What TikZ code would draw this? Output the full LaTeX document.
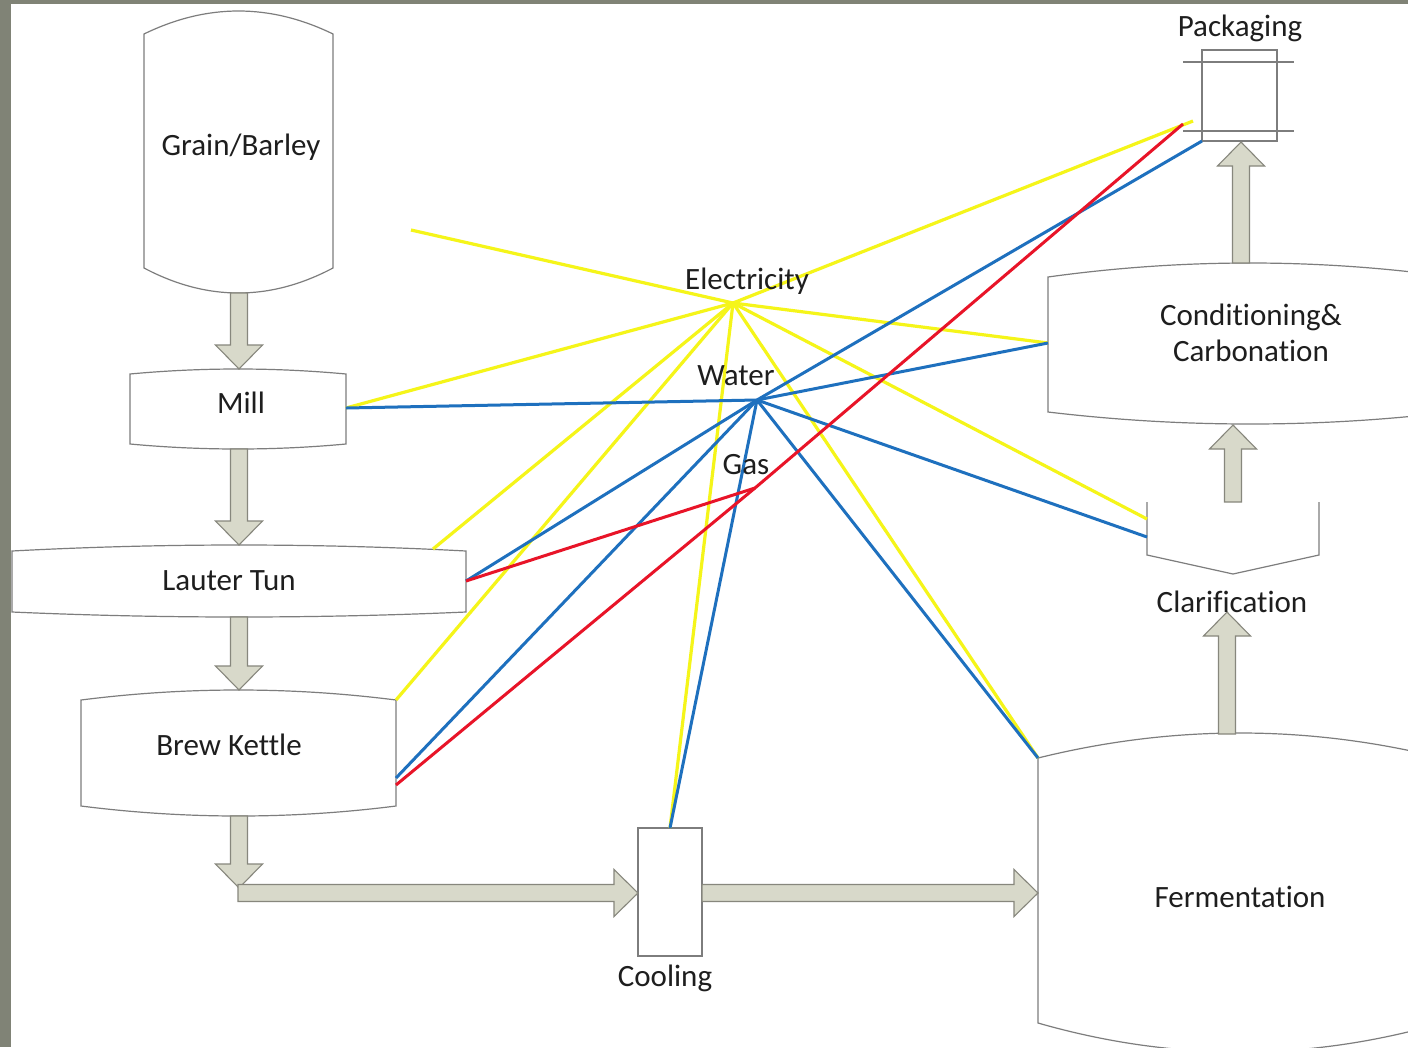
\documentclass[tikz,border=0pt]{standalone}
\usepackage{fontspec}
\setmainfont{Carlito}[Ligatures=NoCommon]
\usetikzlibrary{calc}
\definecolor{framecol}{RGB}{128,131,118}
\definecolor{outl}{RGB}{125,125,125}
\definecolor{arrfill}{RGB}{216,217,202}
\definecolor{arrline}{RGB}{135,135,125}
\definecolor{elecY}{RGB}{245,245,25}
\definecolor{waterB}{RGB}{30,112,190}
\definecolor{gasR}{RGB}{232,20,40}
\definecolor{txt}{RGB}{30,30,30}
\tikzset{
  vessel/.style={draw=outl, fill=white, line width=1.2pt},
  thinrule/.style={draw=outl, line width=1.2pt},
  blockarrow/.style={draw=arrline, fill=arrfill, line width=1.1pt, line join=miter},
  elecline/.style={draw=elecY, line width=3.2pt},
  waterline/.style={draw=waterB, line width=3pt},
  gasline/.style={draw=gasR, line width=3pt},
  lbl/.style={text=txt, font=\fontsize{31}{37}\selectfont, anchor=base, inner sep=0pt},
}
% tank outline: x1 x2 peak top bottom low
\newcommand\tankpath[6]{%
  \draw[vessel] (#1,#4) .. controls ({#1+(#2-#1)/3},{#4+4/3*(#3-#4)}) and ({#2-(#2-#1)/3},{#4+4/3*(#3-#4)}) .. (#2,#4)
    -- (#2,#5) .. controls ({#2-(#2-#1)/3},{#5+4/3*(#6-#5)}) and ({#1+(#2-#1)/3},{#5+4/3*(#6-#5)}) .. (#1,#5) -- cycle;}
\newcommand\blkdown[2]{\draw[blockarrow] let \p1=(#1), \p2=(#2) in
  (\x1-8.5pt,\y1) -- (\x1-8.5pt,\y2+24pt) -- (\x1-23.5pt,\y2+24pt) -- (\x1,\y2)
  -- (\x1+23.5pt,\y2+24pt) -- (\x1+8.5pt,\y2+24pt) -- (\x1+8.5pt,\y1) -- cycle;}
\newcommand\blkup[2]{\draw[blockarrow] let \p1=(#1), \p2=(#2) in
  (\x1-8.5pt,\y1) -- (\x1-8.5pt,\y2-24pt) -- (\x1-23.5pt,\y2-24pt) -- (\x1,\y2)
  -- (\x1+23.5pt,\y2-24pt) -- (\x1+8.5pt,\y2-24pt) -- (\x1+8.5pt,\y1) -- cycle;}
\newcommand\blkright[2]{\draw[blockarrow] let \p1=(#1), \p2=(#2) in
  (\x1,\y1+8.5pt) -- (\x2-24pt,\y1+8.5pt) -- (\x2-24pt,\y1+23.5pt) -- (\x2,\y1)
  -- (\x2-24pt,\y1-23.5pt) -- (\x2-24pt,\y1-8.5pt) -- (\x1,\y1-8.5pt) -- cycle;}
\begin{document}
\begin{tikzpicture}[x=1pt,y=-1pt]
\useasboundingbox (0,0) rectangle (1408,1047);
\clip (0,0) rectangle (1408,1047);
\fill[framecol] (0,0) rectangle (1408,1047);
\fill[white] (11,4) rectangle (1408,1047);

% ---- vessels ----
\tankpath{144}{333}{11}{34}{268}{293}
\tankpath{130}{346}{369}{374}{444}{449}
\tankpath{12}{466}{545}{551}{612}{617}
\tankpath{81}{396}{690}{700}{806}{816}
\tankpath{1038}{1442}{733}{758}{1023}{1052}
\tankpath{1048}{1452}{263}{277}{412}{424}
\draw[vessel] (638,828) rectangle (702,956);
\draw[thinrule, line join=miter] (1147,502) -- (1147,555) -- (1233,574) -- (1319,555) -- (1319,502);
\draw[vessel] (1202,50) rectangle (1277,141);
\draw[thinrule] (1183,62) -- (1294,62);
\draw[thinrule] (1183,131) -- (1294,131);

% ---- anchor points ----
\coordinate (grainB) at (239,293);
\coordinate (millT) at (239,369);
\coordinate (millB) at (239,449);
\coordinate (lautT) at (239,545);
\coordinate (lautB) at (239,617);
\coordinate (brewT) at (239,690);
\coordinate (brewB) at (239,816);
\coordinate (bend) at (239,888);
\coordinate (bendH) at (238,893);
\coordinate (coolL) at (638,893);
\coordinate (coolR) at (702,893);
\coordinate (fermL) at (1038,893);
\coordinate (fermT) at (1227,734);
\coordinate (clarTip) at (1227,612);
\coordinate (clarT) at (1233,502);
\coordinate (condB) at (1233,425);
\coordinate (condT) at (1241,263);
\coordinate (packB) at (1241,142);

\coordinate (elec) at (733,303);
\coordinate (water) at (757,400);
\coordinate (gas) at (755,488);
\coordinate (yfree) at (411,230);
\coordinate (millR) at (346,408);
\coordinate (lautTR) at (433,549);
\coordinate (lautR) at (466,581);
\coordinate (brewTR) at (396,700);
\coordinate (brewRw) at (396,778);
\coordinate (brewRg) at (396,785);
\coordinate (coolT) at (670,828);
\coordinate (condL) at (1048,343);
\coordinate (clarLy) at (1147,519);
\coordinate (clarLw) at (1147,537);
\coordinate (fermTL) at (1038,758);
\coordinate (packY) at (1193,121);
\coordinate (packG) at (1183,124);
\coordinate (packW) at (1202,141);

% ---- process arrows ----
\blkdown{grainB}{millT}
\blkdown{millB}{lautT}
\blkdown{lautB}{brewT}
\blkdown{brewB}{bend}
\blkright{bendH}{coolL}
\blkright{coolR}{fermL}
\blkup{fermT}{clarTip}
\blkup{clarT}{condB}
\blkup{condT}{packB}

% ---- utility lines ----
\foreach \t in {yfree,packY,millR,lautTR,brewTR,coolT,condL,clarLy,fermTL}
  \draw[elecline] (elec) -- (\t);
\foreach \t in {millR,packW,condL,clarLw,fermTL,coolT,brewRw,lautR}
  \draw[waterline] (water) -- (\t);
\draw[gasline] (lautR) -- (gas);
\draw[gasline, line join=round] (brewRg) -- (gas) -- (packG);

% ---- labels ----
\node[lbl] (grainL) at (241,155) {Grain/Barley};
\node[lbl] (millL) at (241,413) {Mill};
\node[lbl] (lautL) at (229,590) {Lauter Tun};
\node[lbl] (brewL) at (229,755) {Brew Kettle};
\node[lbl] (coolLbl) at (665,986) {Cooling};
\node[lbl] (fermLbl) at (1240,907) {Fermentation};
\node[lbl] (condL1) at (1251,325) {Conditioning\&};
\node[lbl] (condL2) at (1251,361) {Carbonation};
\node[lbl] (clarLbl) at (1232,612) {Clarification};
\node[lbl] (packLbl) at (1240,36) {Packaging};
\node[lbl] (elecL) at (747,289) {Electricity};
\node[lbl] (waterL) at (736,385) {Water};
\node[lbl] (gasL) at (746,474) {Gas};
\end{tikzpicture}
\end{document}
